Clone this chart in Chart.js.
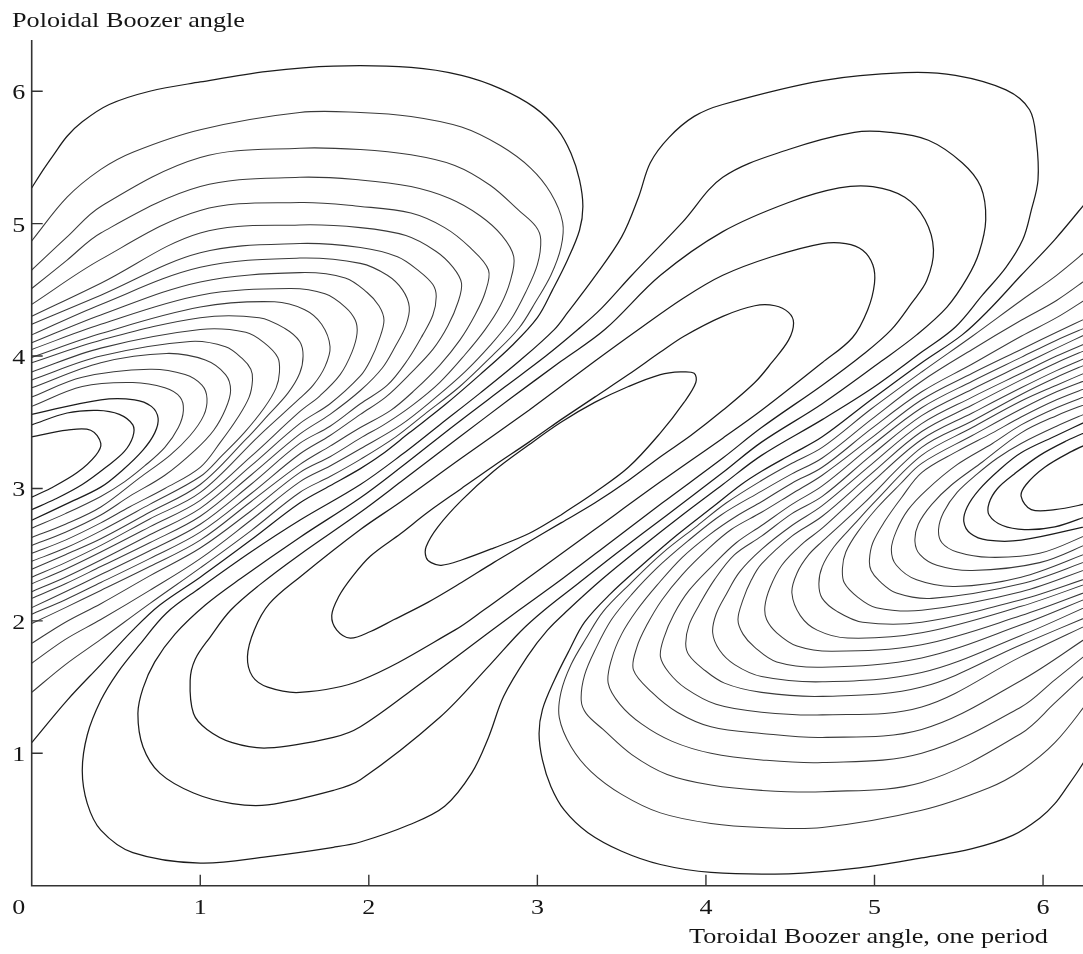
<!DOCTYPE html>
<html>
<head>
<meta charset="utf-8">
<script src="https://cdn.jsdelivr.net/npm/chart.js@4.4.1/dist/chart.umd.min.js"></script>
<style>
  html, body { margin: 0; background: #fff; }
  #wrap { width: 1083px; height: 954px; }
</style>
</head>
<body>
<div id="wrap"><canvas id="chart" width="1083" height="954"></canvas></div>
<script>
// axis ranges and ticks (radians)
const xMax = 6.237;
const yMax = 6.387;
const xTicks = [1, 2, 3, 4, 5, 6];
const yTicks = [1, 2, 3, 4, 5, 6];

// closed |B| contours around the central maximum, innermost first
const centreLoops = [
  [[3.14,2.80],[3.34,2.97],[3.54,3.16],[3.73,3.42],[3.87,3.65],[3.94,3.80],[3.93,3.87],[3.85,3.88],[3.73,3.86],[3.54,3.77],[3.34,3.65],[3.14,3.50],[2.95,3.33],[2.74,3.13],[2.55,2.91],[2.41,2.71],[2.34,2.56],[2.34,2.48],[2.37,2.44],[2.43,2.42],[2.55,2.46],[2.74,2.55],[2.95,2.66],[3.14,2.80]],
  [[3.14,3.52],[3.34,3.69],[3.54,3.86],[3.73,4.03],[3.87,4.15],[4.10,4.30],[4.29,4.38],[4.41,4.38],[4.49,4.33],[4.52,4.25],[4.49,4.12],[4.39,3.95],[4.29,3.80],[4.10,3.59],[3.91,3.40],[3.73,3.24],[3.54,3.06],[3.34,2.89],[3.14,2.74],[2.94,2.59],[2.74,2.44],[2.55,2.29],[2.35,2.14],[2.15,2.01],[2.01,1.92],[1.89,1.87],[1.81,1.93],[1.78,2.04],[1.82,2.18],[1.90,2.33],[2.01,2.49],[2.19,2.66],[2.35,2.82],[2.55,3.00],[2.74,3.17],[2.95,3.35],[3.14,3.52]],
  [[2.95,3.59],[2.55,3.23],[2.19,2.90],[1.95,2.69],[1.59,2.33],[1.41,2.13],[1.32,1.93],[1.28,1.73],[1.31,1.58],[1.40,1.50],[1.59,1.46],[1.95,1.55],[2.51,1.93],[2.68,2.08],[2.94,2.32],[3.34,2.69],[3.73,3.05],[4.10,3.38],[4.33,3.59],[4.69,3.95],[4.87,4.14],[4.96,4.35],[5.00,4.55],[4.99,4.69],[4.93,4.80],[4.83,4.85],[4.69,4.85],[4.39,4.75],[4.10,4.61],[3.87,4.44],[3.60,4.20],[3.34,3.96],[2.95,3.59]],
  [[2.84,3.68],[2.54,3.39],[2.19,3.05],[1.95,2.82],[1.59,2.50],[1.35,2.27],[1.18,2.08],[1.06,1.88],[0.97,1.71],[0.94,1.55],[0.96,1.30],[1.04,1.18],[1.19,1.08],[1.40,1.04],[1.79,1.12],[1.95,1.20],[2.30,1.52],[2.73,1.93],[2.89,2.08],[3.15,2.32],[3.44,2.60],[3.74,2.89],[4.10,3.23],[4.33,3.46],[4.69,3.78],[4.93,4.01],[5.10,4.20],[5.22,4.40],[5.31,4.57],[5.35,4.80],[5.30,5.03],[5.18,5.20],[4.99,5.28],[4.79,5.27],[4.49,5.16],[4.10,4.94],[3.73,4.61],[3.40,4.20],[3.14,3.96],[2.84,3.68]],
  [[2.81,3.77],[2.51,3.48],[2.19,3.16],[1.95,2.93],[1.59,2.63],[1.24,2.32],[1.03,2.12],[0.85,1.90],[0.73,1.69],[0.66,1.49],[0.63,1.30],[0.66,1.05],[0.76,0.85],[0.96,0.70],[1.19,0.62],[1.40,0.61],[1.79,0.72],[1.95,0.80],[2.42,1.27],[2.72,1.67],[2.90,1.92],[3.04,2.08],[3.24,2.28],[3.47,2.51],[3.77,2.80],[4.10,3.12],[4.33,3.35],[4.69,3.64],[5.04,3.96],[5.25,4.16],[5.43,4.37],[5.55,4.59],[5.62,4.78],[5.66,5.03],[5.63,5.28],[5.52,5.46],[5.32,5.63],[5.09,5.69],[4.88,5.69],[4.49,5.56],[4.10,5.35],[3.86,5.01],[3.56,4.61],[3.38,4.36],[3.24,4.20],[3.05,4.00],[2.81,3.77]],
  [[2.42,3.48],[2.19,3.25],[1.95,3.03],[1.59,2.76],[1.30,2.52],[1.00,2.25],[0.80,2.06],[0.64,1.82],[0.51,1.61],[0.41,1.40],[0.33,1.14],[0.30,0.87],[0.33,0.62],[0.41,0.42],[0.60,0.25],[1.00,0.17],[1.40,0.22],[1.79,0.29],[1.95,0.33],[2.24,0.46],[2.45,0.60],[2.61,0.85],[2.71,1.12],[2.80,1.43],[2.94,1.73],[3.06,1.93],[3.18,2.08],[3.38,2.31],[3.62,2.56],[3.86,2.80],[4.10,3.03],[4.33,3.25],[4.69,3.52],[4.99,3.76],[5.28,4.03],[5.48,4.22],[5.64,4.46],[5.78,4.67],[5.88,4.88],[5.93,5.10],[5.97,5.33],[5.96,5.63],[5.92,5.86],[5.78,6.01],[5.48,6.12],[5.18,6.14],[4.69,6.08],[4.10,5.90],[3.93,5.81],[3.78,5.65],[3.67,5.46],[3.60,5.20],[3.50,4.90],[3.34,4.60],[3.18,4.33],[3.10,4.20],[2.90,3.97],[2.66,3.72],[2.42,3.48]]
];

// contours around the minimum on the left edge, innermost first
const westLines = [
  [[0,3.39],[0.21,3.44],[0.35,3.44],[0.41,3.34],[0.38,3.25],[0.27,3.12],[0.11,3.00],[0,2.935]],
  [[0,3.48],[0.21,3.57],[0.39,3.59],[0.52,3.56],[0.60,3.48],[0.60,3.39],[0.55,3.28],[0.45,3.17],[0.30,3.03],[0.14,2.92],[0,2.84]],
  [[0,3.56],[0.41,3.67],[0.61,3.67],[0.71,3.62],[0.75,3.53],[0.73,3.42],[0.66,3.29],[0.54,3.14],[0.41,3.01],[0.20,2.88],[0,2.76]],
  [[0,3.62],[0.30,3.77],[0.60,3.80],[0.79,3.76],[0.88,3.69],[0.90,3.59],[0.87,3.46],[0.79,3.31],[0.67,3.17],[0.55,3.05],[0.41,2.94],[0.20,2.81],[0,2.70]],
  [[0,3.69],[0.30,3.84],[0.70,3.90],[0.91,3.86],[1.01,3.78],[1.04,3.68],[1.02,3.55],[0.94,3.40],[0.82,3.25],[0.64,3.08],[0.41,2.86],[0.20,2.73],[0,2.63]],
  [[0,3.76],[0.41,3.95],[0.80,4.02],[1.03,3.97],[1.15,3.86],[1.18,3.74],[1.15,3.60],[1.08,3.44],[0.97,3.29],[0.79,3.10],[0.58,2.94],[0.41,2.80],[0.20,2.67],[0,2.57]],
  [[0,3.82],[0.41,4.00],[0.94,4.11],[1.15,4.07],[1.25,3.98],[1.30,3.90],[1.31,3.82],[1.29,3.69],[1.22,3.53],[1.12,3.35],[1.00,3.16],[0.79,3.00],[0.58,2.86],[0.41,2.74],[0.20,2.61],[0,2.51]],
  [[0,3.88],[0.41,4.06],[1.00,4.20],[1.27,4.18],[1.38,4.10],[1.46,3.99],[1.47,3.88],[1.45,3.76],[1.38,3.61],[1.26,3.42],[1.13,3.25],[1.00,3.09],[0.70,2.88],[0.41,2.68],[0.20,2.55],[0,2.45]],
  [[0,3.95],[0.41,4.12],[1.00,4.29],[1.35,4.29],[1.50,4.21],[1.59,4.11],[1.61,4.00],[1.59,3.87],[1.52,3.72],[1.40,3.55],[1.27,3.37],[1.00,3.03],[0.70,2.82],[0.41,2.62],[0.20,2.50],[0,2.39]],
  [[0,3.99],[0.41,4.17],[1.00,4.37],[1.44,4.41],[1.62,4.35],[1.72,4.24],[1.77,4.07],[1.74,3.92],[1.67,3.78],[1.59,3.68],[1.35,3.40],[1.00,2.97],[0.70,2.77],[0.41,2.57],[0.20,2.44],[0,2.33]],
  [[0,4.05],[0.41,4.24],[1.00,4.46],[1.53,4.51],[1.74,4.47],[1.86,4.37],[1.92,4.27],[1.93,4.17],[1.90,4.03],[1.83,3.86],[1.71,3.70],[1.59,3.58],[1.30,3.24],[1.00,2.91],[0.70,2.71],[0.41,2.52],[0.20,2.39],[0,2.28]],
  [[0,4.10],[0.41,4.31],[1.00,4.56],[1.59,4.63],[1.86,4.59],[1.99,4.48],[2.06,4.38],[2.09,4.27],[2.06,4.12],[2.01,3.97],[1.95,3.85],[1.77,3.64],[1.59,3.49],[1.30,3.17],[1.00,2.85],[0.70,2.65],[0.41,2.46],[0.20,2.33],[0,2.22]],
  [[0,4.16],[0.41,4.39],[1.00,4.67],[1.59,4.74],[1.95,4.70],[2.11,4.61],[2.20,4.50],[2.24,4.37],[2.22,4.23],[2.16,4.08],[2.08,3.91],[1.95,3.74],[1.77,3.56],[1.59,3.41],[1.30,3.10],[1.00,2.79],[0.70,2.59],[0.41,2.41],[0.20,2.28],[0,2.17]],
  [[0,4.24],[0.41,4.46],[1.00,4.78],[1.59,4.85],[1.95,4.82],[2.17,4.75],[2.30,4.64],[2.38,4.54],[2.40,4.45],[2.38,4.31],[2.32,4.16],[2.23,3.97],[2.11,3.78],[1.95,3.64],[1.77,3.47],[1.59,3.34],[1.30,3.03],[1.00,2.73],[0.70,2.53],[0.41,2.35],[0.20,2.22],[0,2.10]],
  [[0,4.30],[0.41,4.55],[1.00,4.93],[1.59,4.99],[1.95,4.97],[2.22,4.91],[2.40,4.79],[2.50,4.67],[2.55,4.55],[2.53,4.41],[2.47,4.23],[2.38,4.05],[2.24,3.86],[2.10,3.69],[1.95,3.56],[1.77,3.40],[1.59,3.26],[1.30,2.96],[1.00,2.67],[0.70,2.47],[0.41,2.29],[0.20,2.16],[0,2.05]],
  [[0,4.39],[0.41,4.73],[1.00,5.10],[1.59,5.16],[1.95,5.13],[2.25,5.08],[2.45,4.97],[2.60,4.82],[2.71,4.65],[2.69,4.48],[2.63,4.31],[2.54,4.12],[2.42,3.93],[2.27,3.74],[2.13,3.59],[1.95,3.46],[1.77,3.32],[1.59,3.18],[1.30,2.90],[1.00,2.61],[0.70,2.41],[0.41,2.23],[0.20,2.10],[0,1.98]],
  [[0,4.51],[0.21,4.725],[0.41,4.93],[1.00,5.28],[1.59,5.35],[1.95,5.33],[2.25,5.28],[2.48,5.19],[2.66,5.06],[2.79,4.91],[2.86,4.75],[2.84,4.57],[2.78,4.38],[2.69,4.20],[2.57,4.01],[2.42,3.80],[2.26,3.63],[2.10,3.49],[1.95,3.38],[1.77,3.24],[1.59,3.12],[1.30,2.83],[1.00,2.55],[0.70,2.34],[0.41,2.13],[0.20,1.99],[0,1.83]],
  [[0,4.65],[0.21,4.90],[0.41,5.13],[1.00,5.50],[1.59,5.57],[1.95,5.56],[2.25,5.52],[2.51,5.44],[2.72,5.29],[2.89,5.10],[2.99,4.98],[3.02,4.88],[3.00,4.69],[2.93,4.48],[2.84,4.27],[2.72,4.08],[2.57,3.88],[2.39,3.68],[2.19,3.48],[1.95,3.30],[1.77,3.17],[1.59,3.05],[1.30,2.76],[1.00,2.47],[0.70,2.23],[0.41,2.01],[0.20,1.86],[0,1.68]],
  [[0,4.87],[0.21,5.20],[0.41,5.41],[0.60,5.54],[1.00,5.71],[1.59,5.84],[1.95,5.84],[2.25,5.81],[2.55,5.73],[2.78,5.59],[2.96,5.42],[3.08,5.23],[3.15,5.01],[3.14,4.82],[3.08,4.61],[2.99,4.41],[2.89,4.21],[2.73,4.00],[2.54,3.77],[2.33,3.56],[2.16,3.39],[1.95,3.22],[1.77,3.09],[1.59,2.97],[1.30,2.68],[1.00,2.40],[0.70,2.13],[0.41,1.86],[0.20,1.67],[0,1.46]],
  [[0,5.27],[0.07,5.41],[0.13,5.52],[0.21,5.66],[0.30,5.77],[0.46,5.90],[0.70,6.00],[1.00,6.07],[1.40,6.15],[1.79,6.19],[2.25,6.18],[2.55,6.12],[2.78,6.02],[2.98,5.88],[3.12,5.71],[3.20,5.53],[3.25,5.33],[3.27,5.13],[3.25,4.95],[3.18,4.73],[3.09,4.50],[3.00,4.29],[2.85,4.08],[2.66,3.86],[2.45,3.63],[2.24,3.42],[2.07,3.25],[1.95,3.15],[1.77,3.02],[1.59,2.89],[1.30,2.61],[1.00,2.33],[0.76,2.12],[0.60,1.93],[0.41,1.67],[0.21,1.40],[0,1.08]]
];

// contours around the minimum on the right edge, innermost first
const eastLines = [
  [[6.28,2.89],[6.07,2.84],[5.93,2.84],[5.87,2.94],[5.90,3.03],[6.01,3.16],[6.17,3.28],[6.28,3.345]],
  [[6.28,2.80],[6.07,2.71],[5.89,2.69],[5.76,2.72],[5.68,2.80],[5.68,2.89],[5.73,3.00],[5.83,3.11],[5.98,3.25],[6.14,3.36],[6.28,3.44]],
  [[6.28,2.72],[5.87,2.61],[5.67,2.61],[5.57,2.66],[5.53,2.75],[5.55,2.86],[5.62,2.99],[5.74,3.14],[5.87,3.27],[6.08,3.40],[6.28,3.52]],
  [[6.28,2.66],[5.98,2.51],[5.68,2.48],[5.49,2.52],[5.40,2.59],[5.38,2.69],[5.41,2.82],[5.49,2.97],[5.61,3.11],[5.73,3.23],[5.87,3.34],[6.08,3.47],[6.28,3.58]],
  [[6.28,2.59],[5.98,2.44],[5.58,2.38],[5.37,2.42],[5.27,2.50],[5.24,2.60],[5.26,2.73],[5.34,2.88],[5.46,3.03],[5.64,3.20],[5.87,3.42],[6.08,3.55],[6.28,3.65]],
  [[6.28,2.52],[5.87,2.33],[5.48,2.26],[5.25,2.31],[5.13,2.42],[5.10,2.54],[5.13,2.68],[5.20,2.84],[5.31,2.99],[5.49,3.18],[5.70,3.34],[5.87,3.48],[6.08,3.61],[6.28,3.71]],
  [[6.28,2.46],[5.87,2.28],[5.34,2.17],[5.13,2.21],[5.03,2.30],[4.98,2.38],[4.97,2.46],[4.99,2.59],[5.06,2.75],[5.16,2.93],[5.28,3.12],[5.49,3.28],[5.70,3.42],[5.87,3.54],[6.08,3.67],[6.28,3.77]],
  [[6.28,2.40],[5.87,2.22],[5.28,2.08],[5.01,2.10],[4.90,2.18],[4.82,2.29],[4.81,2.40],[4.83,2.52],[4.90,2.67],[5.02,2.86],[5.15,3.03],[5.28,3.19],[5.58,3.40],[5.87,3.60],[6.08,3.73],[6.28,3.83]],
  [[6.28,2.33],[5.87,2.16],[5.28,1.99],[4.93,1.99],[4.78,2.07],[4.69,2.17],[4.67,2.28],[4.69,2.41],[4.76,2.56],[4.88,2.73],[5.01,2.91],[5.28,3.25],[5.58,3.46],[5.87,3.66],[6.08,3.78],[6.28,3.89]],
  [[6.28,2.29],[5.87,2.11],[5.28,1.91],[4.84,1.87],[4.66,1.93],[4.56,2.04],[4.51,2.21],[4.54,2.36],[4.61,2.50],[4.69,2.60],[4.93,2.88],[5.28,3.31],[5.58,3.51],[5.87,3.71],[6.08,3.84],[6.28,3.95]],
  [[6.28,2.23],[5.87,2.04],[5.28,1.82],[4.75,1.77],[4.54,1.81],[4.42,1.91],[4.36,2.01],[4.35,2.11],[4.38,2.25],[4.45,2.42],[4.57,2.58],[4.69,2.70],[4.98,3.04],[5.28,3.37],[5.58,3.57],[5.87,3.76],[6.08,3.89],[6.28,4.00]],
  [[6.28,2.18],[5.87,1.97],[5.28,1.72],[4.69,1.65],[4.42,1.69],[4.29,1.80],[4.22,1.90],[4.19,2.01],[4.22,2.16],[4.27,2.31],[4.33,2.43],[4.51,2.64],[4.69,2.79],[4.98,3.11],[5.28,3.43],[5.58,3.63],[5.87,3.82],[6.08,3.95],[6.28,4.06]],
  [[6.28,2.12],[5.87,1.89],[5.28,1.61],[4.69,1.54],[4.33,1.58],[4.17,1.67],[4.08,1.78],[4.04,1.91],[4.06,2.05],[4.12,2.20],[4.20,2.37],[4.33,2.54],[4.51,2.72],[4.69,2.87],[4.98,3.18],[5.28,3.49],[5.58,3.69],[5.87,3.87],[6.08,4.00],[6.28,4.11]],
  [[6.28,2.04],[5.87,1.82],[5.28,1.50],[4.69,1.43],[4.33,1.46],[4.11,1.53],[3.98,1.64],[3.90,1.74],[3.88,1.83],[3.90,1.97],[3.96,2.12],[4.05,2.31],[4.17,2.50],[4.33,2.64],[4.51,2.81],[4.69,2.94],[4.98,3.25],[5.28,3.55],[5.58,3.75],[5.87,3.93],[6.08,4.06],[6.28,4.18]],
  [[6.28,1.98],[5.87,1.73],[5.28,1.35],[4.69,1.29],[4.33,1.31],[4.06,1.37],[3.88,1.49],[3.78,1.61],[3.73,1.73],[3.75,1.87],[3.81,2.05],[3.90,2.23],[4.04,2.42],[4.18,2.59],[4.33,2.72],[4.51,2.88],[4.69,3.02],[4.98,3.32],[5.28,3.61],[5.58,3.81],[5.87,3.99],[6.08,4.12],[6.28,4.23]],
  [[6.28,1.89],[5.87,1.55],[5.28,1.18],[4.69,1.12],[4.33,1.15],[4.03,1.20],[3.83,1.31],[3.68,1.46],[3.57,1.63],[3.59,1.80],[3.65,1.97],[3.74,2.16],[3.86,2.35],[4.01,2.54],[4.15,2.69],[4.33,2.82],[4.51,2.96],[4.69,3.10],[4.98,3.38],[5.28,3.67],[5.58,3.87],[5.87,4.05],[6.08,4.18],[6.28,4.30]],
  [[6.28,1.77],[6.07,1.555],[5.87,1.35],[5.28,1.00],[4.69,0.93],[4.33,0.95],[4.03,1.00],[3.80,1.09],[3.62,1.22],[3.49,1.37],[3.42,1.53],[3.44,1.71],[3.50,1.90],[3.59,2.08],[3.71,2.27],[3.86,2.48],[4.02,2.65],[4.18,2.79],[4.33,2.90],[4.51,3.04],[4.69,3.16],[4.98,3.45],[5.28,3.73],[5.58,3.94],[5.87,4.15],[6.08,4.29],[6.28,4.45]],
  [[6.28,1.63],[6.07,1.38],[5.87,1.15],[5.28,0.78],[4.69,0.71],[4.33,0.72],[4.03,0.76],[3.77,0.84],[3.56,0.99],[3.39,1.18],[3.29,1.30],[3.26,1.40],[3.28,1.59],[3.35,1.80],[3.44,2.01],[3.56,2.20],[3.71,2.40],[3.89,2.60],[4.09,2.80],[4.33,2.98],[4.51,3.11],[4.69,3.23],[4.98,3.52],[5.28,3.81],[5.58,4.05],[5.87,4.27],[6.08,4.42],[6.28,4.60]],
  [[6.28,1.41],[6.07,1.08],[5.87,0.87],[5.68,0.74],[5.28,0.57],[4.69,0.44],[4.33,0.44],[4.03,0.47],[3.73,0.55],[3.50,0.69],[3.32,0.86],[3.20,1.05],[3.13,1.27],[3.14,1.46],[3.20,1.67],[3.29,1.87],[3.39,2.07],[3.55,2.28],[3.74,2.51],[3.95,2.72],[4.12,2.89],[4.33,3.06],[4.51,3.19],[4.69,3.31],[4.98,3.60],[5.28,3.88],[5.58,4.15],[5.87,4.42],[6.08,4.61],[6.28,4.82]],
  [[6.28,1.01],[6.21,0.87],[6.15,0.76],[6.07,0.62],[5.98,0.51],[5.82,0.38],[5.58,0.28],[5.28,0.21],[4.88,0.13],[4.49,0.09],[4.03,0.10],[3.73,0.16],[3.50,0.26],[3.30,0.40],[3.16,0.57],[3.08,0.75],[3.03,0.95],[3.01,1.15],[3.03,1.33],[3.10,1.55],[3.19,1.78],[3.28,1.99],[3.43,2.20],[3.62,2.42],[3.83,2.65],[4.04,2.86],[4.21,3.03],[4.33,3.13],[4.51,3.26],[4.69,3.39],[4.98,3.67],[5.28,3.95],[5.52,4.16],[5.68,4.35],[5.87,4.61],[6.07,4.88],[6.28,5.20]]
];

const toPoints = line => line.map(([x, y]) => ({ x, y }));

const lineSet = (line, colour, width) => ({
  data: toPoints(line),
  showLine: true,
  borderColor: colour,
  borderWidth: width,
  pointRadius: 0,
  tension: 0.35,
  fill: false
});

const dark = i => i < 3 || i === 19;
const datasets = [
  ...centreLoops.map(l => lineSet(l, '#1c1c1c', 1.25)),
  ...westLines.map((l, i) => lineSet(l, dark(i) ? '#1c1c1c' : '#3a3a3a', dark(i) ? 1.25 : 1.05)),
  ...eastLines.map((l, i) => lineSet(l, dark(i) ? '#1c1c1c' : '#3a3a3a', dark(i) ? 1.25 : 1.05))
];

// first installed Times-like face, checked against a monospace fallback
function pickSerif() {
  const probe = document.createElement('canvas').getContext('2d');
  const sample = 'Poloidal Boozer 0123456';
  probe.font = '40px monospace';
  const base = probe.measureText(sample).width;
  const faces = ['Liberation Serif', 'Times New Roman', 'Tinos', 'Nimbus Roman', 'Nimbus Roman No9 L', 'FreeSerif', 'Noto Serif', 'DejaVu Serif Condensed', 'DejaVu Serif'];
  for (const f of faces) {
    probe.font = `40px "${f}", monospace`;
    if (Math.abs(probe.measureText(sample).width - base) > 0.5) return `"${f}", serif`;
  }
  return 'serif';
}

// draws the axis lines, inward ticks, numbers and titles
const framePlugin = {
  id: 'frame',
  afterDraw(chart) {
    const { ctx, chartArea: area, scales: { x, y } } = chart;
    const serif = pickSerif();
    ctx.save();
    ctx.strokeStyle = '#333';
    ctx.lineWidth = 1.6;
    ctx.beginPath();
    ctx.moveTo(area.left, area.top);
    ctx.lineTo(area.left, area.bottom);
    ctx.lineTo(area.right, area.bottom);
    ctx.stroke();

    ctx.lineWidth = 1.4;
    ctx.beginPath();
    xTicks.forEach(v => {
      const px = x.getPixelForValue(v);
      ctx.moveTo(px, area.bottom);
      ctx.lineTo(px, area.bottom - 11);
    });
    yTicks.forEach(v => {
      const py = y.getPixelForValue(v);
      ctx.moveTo(area.left, py);
      ctx.lineTo(area.left + 11, py);
    });
    ctx.stroke();

    ctx.fillStyle = '#151515';
    const digit = (text, cx, base) => {
      ctx.font = '22px ' + serif;
      const w = ctx.measureText(text).width;
      ctx.save();
      ctx.translate(cx, base);
      ctx.scale(13 / w, 1);
      ctx.textAlign = 'center';
      ctx.textBaseline = 'alphabetic';
      ctx.fillText(text, 0, 0);
      ctx.restore();
    };
    xTicks.forEach(v => digit(String(v), x.getPixelForValue(v), area.bottom + 28));
    digit('0', area.left - 13, area.bottom + 28);
    yTicks.forEach(v => digit(String(v), area.left - 13, y.getPixelForValue(v) + 8));

    const title = (text, left, base, width) => {
      ctx.font = '22px ' + serif;
      const w = ctx.measureText(text).width;
      ctx.save();
      ctx.translate(left, base);
      ctx.scale(width / w, 1);
      ctx.textAlign = 'left';
      ctx.textBaseline = 'alphabetic';
      ctx.fillText(text, 0, 0);
      ctx.restore();
    };
    title('Poloidal Boozer angle', 12, 27, 233);
    title('Toroidal Boozer angle, one period', 689, 943, 359);
    ctx.restore();
  }
};

new Chart(document.getElementById('chart'), {
  type: 'scatter',
  data: { datasets },
  options: {
    responsive: false,
    animation: false,
    devicePixelRatio: 1,
    layout: { padding: { left: 31.7, top: 40, right: 0, bottom: 68.3 } },
    scales: {
      x: { type: 'linear', min: 0, max: xMax, display: false },
      y: { type: 'linear', min: 0, max: yMax, display: false }
    },
    plugins: { legend: { display: false }, tooltip: { enabled: false } }
  },
  plugins: [framePlugin]
});
</script>
</body>
</html>
